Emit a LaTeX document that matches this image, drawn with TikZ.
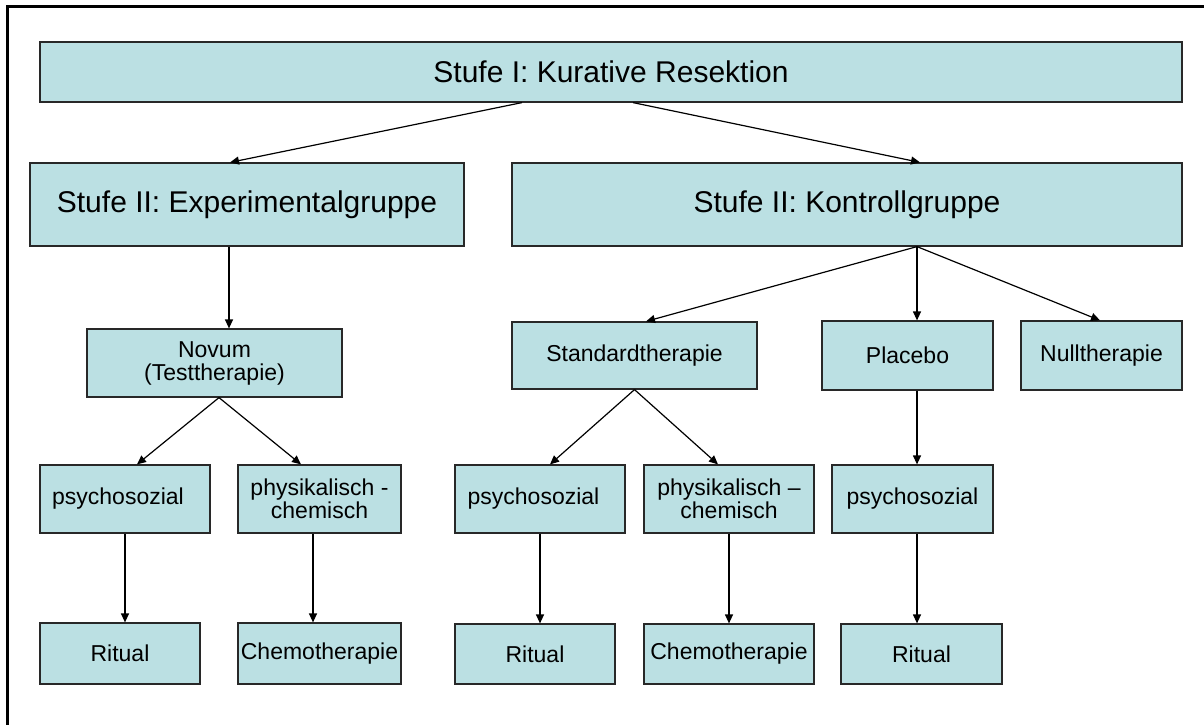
\documentclass[tikz,border=0pt]{standalone}
\usepackage{fontspec}
\setmainfont{Liberation Sans}
\usetikzlibrary{arrows.meta}
\definecolor{boxfill}{RGB}{187,224,227}
\definecolor{boxline}{RGB}{40,40,40}
\tikzset{
  box/.style={draw=boxline, line width=1.2pt, fill=boxfill, inner sep=0pt, align=center, text=black},
  bigtxt/.style={font=\fontsize{30}{30}\selectfont},
  smalltxt/.style={font=\fontsize{23}{23}\selectfont},
  arr/.style={line width=1.2pt, -{Triangle[length=9pt,width=8pt]}},
}
\begin{document}
\begin{tikzpicture}[x=1pt,y=-1pt]
\useasboundingbox (0,0) rectangle (1204,725);
\fill[white] (0,0) rectangle (1204,725);
\draw[line width=3pt] (7,726) -- (7,7) -- (1205,7);
% level I / II
\node[box,bigtxt,minimum width=1142pt,minimum height=60pt] (top) at (611,72) {Stufe I: Kurative Resektion};
\node[box,bigtxt,minimum width=434pt,minimum height=83pt] (exp) at (247,204.5) {Stufe II: Experimentalgruppe};
\node[box,bigtxt,minimum width=670pt,minimum height=83pt] (kon) at (847,204.5) {Stufe II: Kontrollgruppe};
% therapies
\node[box,smalltxt,minimum width=255pt,minimum height=68pt] (nov) at (214.5,363) {Novum\\(Testtherapie)};
\node[box,smalltxt,minimum width=245pt,minimum height=67pt] (std) at (634.5,355.5) {Standardtherapie};
\node[box,smalltxt,minimum width=171pt,minimum height=69pt] (plac) at (907.5,355.5) {Placebo};
\node[box,smalltxt,minimum width=161pt,minimum height=69pt] (null) at (1101.5,355.5) {Nulltherapie};
% kind
\node[box,smalltxt,minimum width=170pt,minimum height=68pt] (psy1) at (125,499) {psychosozial\hspace*{14pt}};
\node[box,smalltxt,minimum width=163pt,minimum height=68pt] (phy1) at (319.5,499) {physikalisch -\\chemisch};
\node[box,smalltxt,minimum width=170pt,minimum height=68pt] (psy2) at (540,499) {psychosozial\hspace*{13pt}};
\node[box,smalltxt,minimum width=170pt,minimum height=68pt] (phy2) at (729,499) {physikalisch --\\chemisch};
\node[box,smalltxt,minimum width=161pt,minimum height=68pt] (psy3) at (912.5,499) {psychosozial};
% bottom
\node[box,smalltxt,minimum width=160pt,minimum height=61pt] (rit1) at (120,653.5) {Ritual};
\node[box,smalltxt,minimum width=163pt,minimum height=61pt] (che1) at (319.5,653.5) {Chemotherapie};
\node[box,smalltxt,minimum width=160pt,minimum height=60pt] (rit2) at (535,654) {Ritual};
\node[box,smalltxt,minimum width=170pt,minimum height=60pt] (che2) at (729,654) {Chemotherapie};
\node[box,smalltxt,minimum width=161pt,minimum height=60pt] (rit3) at (921.5,654) {Ritual};
% connectors
\draw[arr] ([xshift=-89pt]top.south) -- ([xshift=-17pt]exp.north);
\draw[arr] ([xshift=22pt]top.south) -- ([xshift=73pt]kon.north);
\draw[arr] ([xshift=-18pt]exp.south) -- ([xshift=14.5pt]nov.north);
\draw[arr] ([xshift=70pt]kon.south) -- ([xshift=11.5pt]std.north);
\draw[arr] ([xshift=70pt]kon.south) -- ([xshift=9.5pt]plac.north);
\draw[arr] ([xshift=70pt]kon.south) -- ([xshift=-1.5pt]null.north);
\draw[arr] ([xshift=4.5pt]nov.south) -- ([xshift=12pt]psy1.north);
\draw[arr] ([xshift=4.5pt]nov.south) -- ([xshift=-18.5pt]phy1.north);
\draw[arr] (std.south) -- ([xshift=10pt]psy2.north);
\draw[arr] (std.south) -- ([xshift=-11pt]phy2.north);
\draw[arr] (psy1.south) -- ([xshift=5pt]rit1.north);
\draw[arr] ([xshift=-6.5pt]phy1.south) -- ([xshift=-6.5pt]che1.north);
\draw[arr] (psy2.south) -- ([xshift=5pt]rit2.north);
\draw[arr] (phy2.south) -- (che2.north);
\draw[arr] ([xshift=9.5pt]plac.south) -- ([xshift=4.5pt]psy3.north);
\draw[arr] ([xshift=4.5pt]psy3.south) -- ([xshift=-4.5pt]rit3.north);
\end{tikzpicture}
\end{document}
